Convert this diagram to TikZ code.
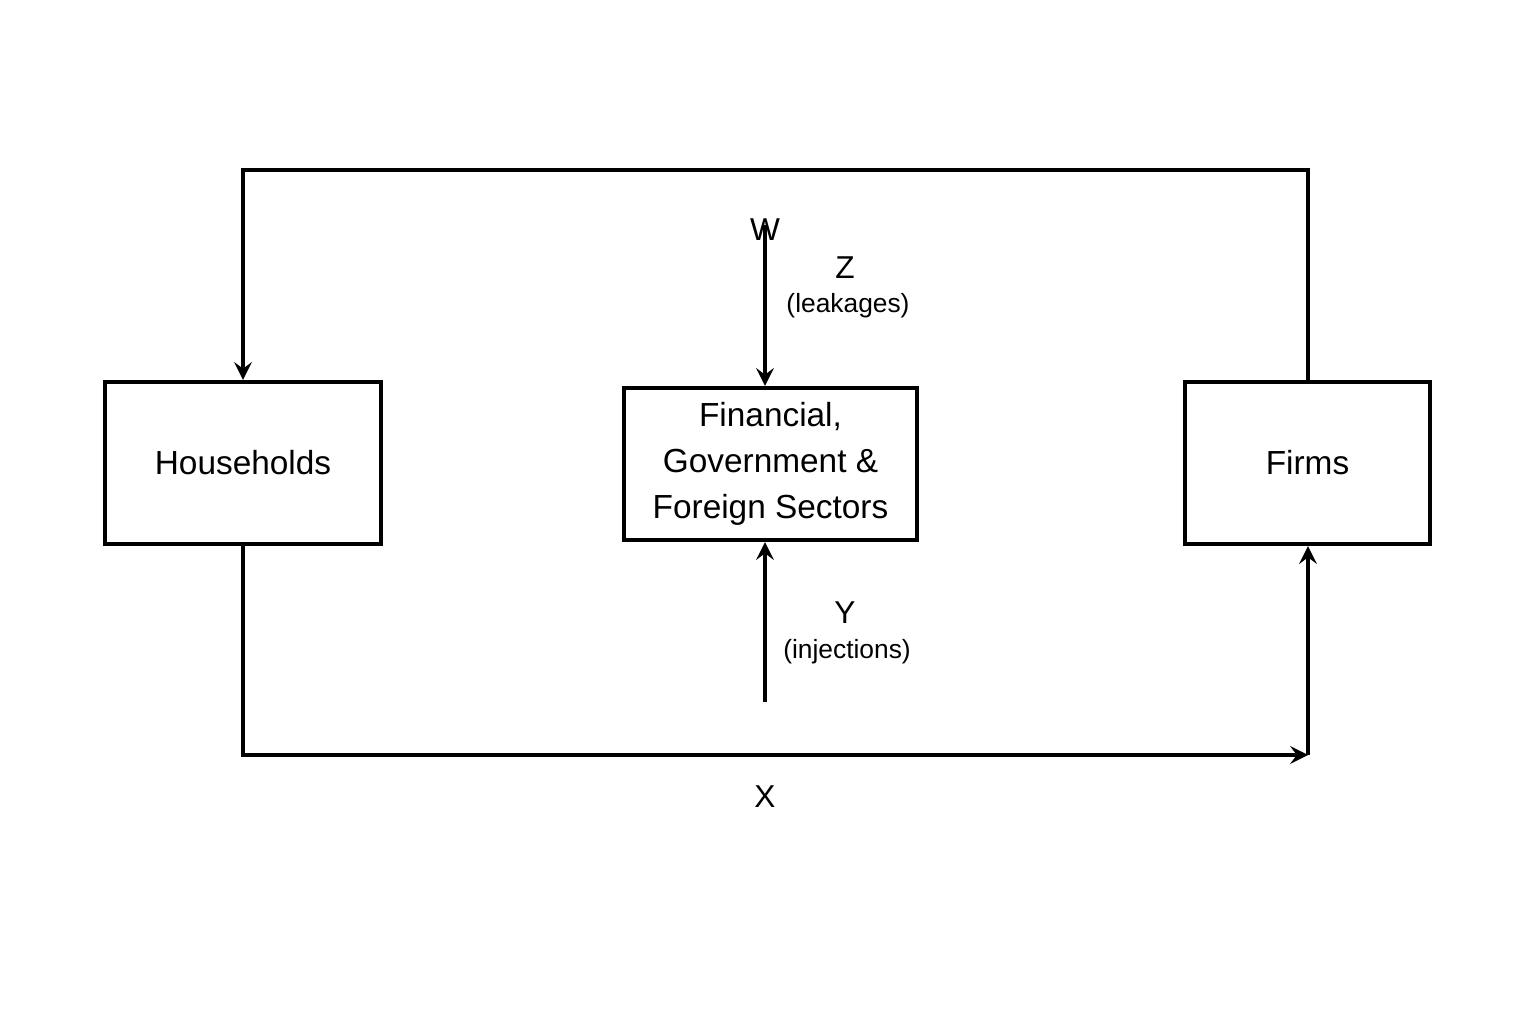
\documentclass[tikz,border=0pt]{standalone}
\usepackage{fontspec}
\setmainfont{Liberation Sans}
\usetikzlibrary{positioning}
\begin{document}
\begin{tikzpicture}[
    sector/.style = {draw, line width = 1.2pt, align = center, font = \fontsize{9.5}{13}\selectfont},
    flow/.style = {line width = 1.2pt},
    lbl/.style = {font = \fontsize{9}{11}\selectfont},
    note/.style = {font = \fontsize{7.5}{9}\selectfont}
  ]
  \useasboundingbox (0,0) rectangle (15.36,10.24);
  \node[sector, minimum width = 2.76cm, minimum height = 1.62cm] (house) at (2.43,5.61) {Households};
  \node[sector, minimum width = 2.93cm, minimum height = 1.52cm] (sect) at (7.705,5.60) {Financial,\\Government \&\\Foreign Sectors};
  \node[sector, minimum width = 2.45cm, minimum height = 1.62cm] (firms) at (13.075,5.61) {Firms};
  % circular flow
  \coordinate (tl) at (2.43,8.54);
  \coordinate (tr) at (13.08,8.54);
  \coordinate (bl) at (2.43,2.69);
  \coordinate (br) at (13.08,2.69);
  \draw[flow, -stealth] (firms.north -| tr) -- (tr) -- (tl) -- (house.north);
  \draw[flow, -stealth] (house.south) -- (bl) -- (br);
  \draw[flow, -stealth] (br) -- (firms.south -| br);
  \node[lbl] (w) at (7.65,7.94) {W};
  \node[lbl] (x) at (7.65,2.27) {X};
  % leakages and injections
  \coordinate (ztop) at (7.65,7.99);
  \coordinate (ybot) at (7.65,3.22);
  \draw[flow, -stealth] (ztop) -- (sect.north -| ztop);
  \draw[flow, -stealth] (ybot) -- (sect.south -| ybot);
  \node[lbl] (z) at (8.45,7.56) {Z};
  \node[note] (leak) at (8.48,7.18) {(leakages)};
  \node[lbl] (y) at (8.45,4.11) {Y};
  \node[note] (inj) at (8.47,3.72) {(injections)};
\end{tikzpicture}
\end{document}
